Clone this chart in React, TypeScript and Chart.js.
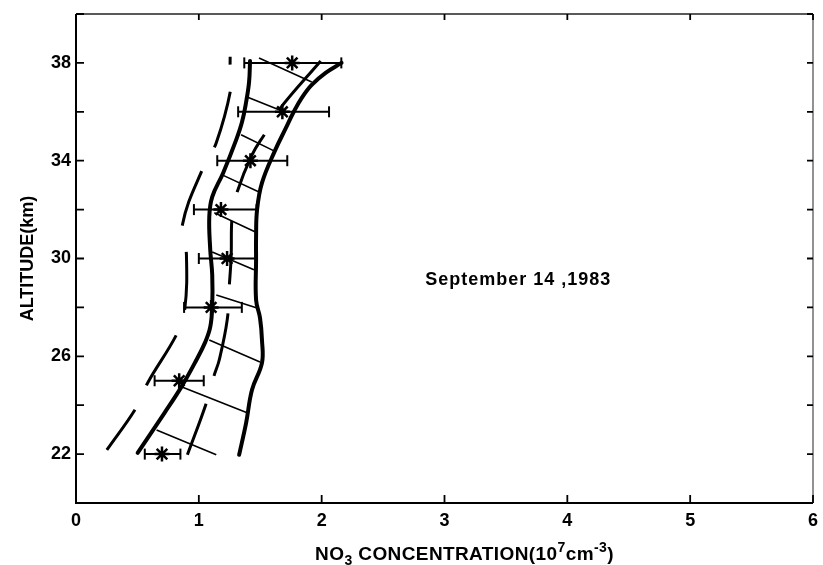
import React, { useEffect, useRef } from "react";
import { Chart, registerables } from "chart.js";

Chart.register(...registerables);

// ---- Data ----
const altitudes = [38, 36, 34, 32, 30, 28, 25, 22];
const concentration = [1.76, 1.68, 1.42, 1.18, 1.23, 1.1, 0.84, 0.7];
const errorLow = [1.37, 1.32, 1.15, 0.96, 1.0, 0.88, 0.64, 0.56];
const errorHigh = [2.16, 2.06, 1.72, 1.47, 1.47, 1.35, 1.04, 0.85];

// [concentration, altitude]
const leftEnvelope: [number, number][] = [
  [1.417, 38.08], [1.409, 37.22], [1.385, 36.4], [1.352, 35.59], [1.304, 34.85],
  [1.198, 33.5], [1.109, 32.52], [1.085, 31.7], [1.093, 30.35], [1.109, 29.33],
  [1.109, 28.02], [1.093, 27.2], [1.053, 26.59], [0.98, 25.85], [0.858, 24.75],
  [0.721, 23.69], [0.502, 22.05],
];
const rightEnvelope: [number, number][] = [
  [2.162, 38.0], [2.032, 37.59], [1.919, 37.1], [1.838, 36.57], [1.773, 36.0],
  [1.709, 35.34], [1.619, 34.4], [1.514, 33.09], [1.474, 31.99], [1.466, 30.88],
  [1.466, 29.94], [1.466, 28.31], [1.498, 27.57], [1.514, 26.67], [1.514, 25.73],
  [1.433, 24.63], [1.385, 23.28], [1.328, 21.97],
];
const innerDashed: [number, number][] = [
  [1.992, 38.08], [1.652, 36.08], [1.547, 35.18], [1.433, 34.24], [1.312, 32.72],
  [1.271, 31.7], [1.263, 30.07], [1.247, 28.8], [1.231, 27.49], [1.166, 25.85],
  [1.126, 25.24], [1.061, 24.09], [0.907, 21.97],
];
const outerDashed: [number, number][] = [
  [1.255, 38.25], [1.255, 37.88], [1.263, 37.02], [1.142, 34.73], [1.045, 33.83],
  [0.866, 31.37], [0.899, 30.15], [0.883, 27.82], [0.818, 26.88], [0.583, 24.91],
  [0.494, 23.93], [0.251, 22.17],
];
// [x1, alt1, x2, alt2]
const hatchSegments: [number, number, number, number][] = [
  [1.49, 38.2, 1.919, 37.22],
  [1.393, 36.61, 1.652, 36.08],
  [1.344, 35.06, 1.628, 34.36],
  [1.19, 33.42, 1.49, 32.72],
  [1.126, 31.87, 1.474, 31.05],
  [1.109, 30.27, 1.449, 29.54],
  [1.142, 28.51, 1.474, 27.98],
  [1.085, 26.67, 1.498, 25.77],
  [0.858, 24.75, 1.393, 23.69],
  [0.656, 22.99, 1.142, 21.97],
];

const yLabelValues = [22, 26, 30, 34, 38];
const dateLabel = "September 14 ,1983";
const dateLabelAt = { x: 3.6, y: 29.1 };
const xTitleParts: { text: string; kind: "base" | "sub" | "sup" }[] = [
  { text: "NO", kind: "base" },
  { text: "3", kind: "sub" },
  { text: " CONCENTRATION(10", kind: "base" },
  { text: "7", kind: "sup" },
  { text: "cm", kind: "base" },
  { text: "-3", kind: "sup" },
  { text: ")", kind: "base" },
];

const FONT = '"Liberation Sans", Arial, Helvetica, sans-serif';

const toPts = (arr: [number, number][]) => arr.map(([x, y]) => ({ x, y }));

const framePlugin = {
  id: "frameTicks",
  afterDatasetsDraw(chart: any) {
    const { ctx, chartArea, scales } = chart;
    const { left, right, top, bottom } = chartArea;
    const xs = scales.x;
    const ys = scales.y;
    ctx.save();
    ctx.lineCap = "butt";
    ctx.strokeStyle = "#000";
    ctx.lineWidth = 2;
    ctx.beginPath();
    ctx.moveTo(left, top);
    ctx.lineTo(left, bottom);
    ctx.lineTo(right, bottom);
    ctx.stroke();
    ctx.lineWidth = 1.6;
    ctx.strokeStyle = "#222";
    ctx.beginPath();
    ctx.moveTo(left, top);
    ctx.lineTo(right, top);
    ctx.stroke();
    ctx.strokeStyle = "#777";
    ctx.beginPath();
    ctx.moveTo(right, top);
    ctx.lineTo(right, bottom);
    ctx.stroke();
    ctx.strokeStyle = "#000";
    ctx.lineWidth = 1.8;
    ctx.beginPath();
    xs.ticks.forEach((t: any) => {
      const px = xs.getPixelForValue(t.value);
      ctx.moveTo(px, bottom);
      ctx.lineTo(px, bottom - 8);
      ctx.moveTo(px, top);
      ctx.lineTo(px, top + 6);
    });
    ys.ticks.forEach((t: any) => {
      const py = ys.getPixelForValue(t.value);
      ctx.moveTo(left, py);
      ctx.lineTo(left + 8, py);
      ctx.moveTo(right, py);
      ctx.lineTo(right - 6, py);
    });
    ctx.stroke();
    ctx.restore();
  },
};

const textPlugin = {
  id: "texts",
  afterDraw(chart: any) {
    const { ctx, chartArea, scales } = chart;
    ctx.save();
    ctx.fillStyle = "#000";
    // date annotation
    ctx.font = `bold 18px ${FONT}`;
    try {
      (ctx as any).letterSpacing = "1px";
    } catch (e) {
      /* ignore */
    }
    ctx.textAlign = "center";
    ctx.textBaseline = "middle";
    ctx.fillText(
      dateLabel,
      scales.x.getPixelForValue(dateLabelAt.x),
      scales.y.getPixelForValue(dateLabelAt.y)
    );
    try {
      (ctx as any).letterSpacing = "0.4px";
    } catch (e) {
      /* ignore */
    }
    // x axis title with sub/superscripts
    const baseFont = `bold 19px ${FONT}`;
    const smallFont = `bold 14px ${FONT}`;
    ctx.textAlign = "left";
    ctx.textBaseline = "alphabetic";
    let total = 0;
    const widths = xTitleParts.map((p) => {
      ctx.font = p.kind === "base" ? baseFont : smallFont;
      const w = ctx.measureText(p.text).width;
      total += w;
      return w;
    });
    const cx = (chartArea.left + chartArea.right) / 2 + 20;
    let x = cx - total / 2;
    const baseY = chart.height - 5;
    xTitleParts.forEach((p, i) => {
      ctx.font = p.kind === "base" ? baseFont : smallFont;
      const dy = p.kind === "sub" ? 5 : p.kind === "sup" ? -8 : 0;
      ctx.fillText(p.text, x, baseY + dy);
      x += widths[i];
    });
    ctx.restore();
  },
};

export default function App() {
  const canvasRef = useRef<HTMLCanvasElement | null>(null);

  useEffect(() => {
    document.body.style.margin = "0";
    const canvas = canvasRef.current;
    if (!canvas) return;

    const hatchData: { x: number; y: number | null }[] = [];
    hatchSegments.forEach(([x1, y1, x2, y2]) => {
      hatchData.push({ x: x1, y: y1 }, { x: x2, y: y2 }, { x: x2, y: null });
    });
    const barData: { x: number; y: number | null }[] = [];
    const capData: { x: number; y: number }[] = [];
    altitudes.forEach((a, i) => {
      barData.push({ x: errorLow[i], y: a }, { x: errorHigh[i], y: a }, { x: errorHigh[i], y: null });
      capData.push({ x: errorLow[i], y: a }, { x: errorHigh[i], y: a });
    });
    const starData = altitudes.map((a, i) => ({ x: concentration[i], y: a }));

    const lineBase = {
      type: "line" as const,
      showLine: true,
      borderColor: "#000",
      backgroundColor: "#000",
      pointRadius: 0,
      fill: false,
    };

    const chart = new Chart(canvas, {
      type: "scatter",
      data: {
        datasets: [
          { ...lineBase, label: "left", data: toPts(leftEnvelope), borderWidth: 4, tension: 0.4, borderCapStyle: "round" },
          { ...lineBase, label: "right", data: toPts(rightEnvelope), borderWidth: 4, tension: 0.4, borderCapStyle: "round" },
          { ...lineBase, label: "inner", data: toPts(innerDashed), borderWidth: 3, tension: 0.4, borderDash: [64, 29] },
          { ...lineBase, label: "outer", data: toPts(outerDashed), borderWidth: 3, tension: 0.4, borderDash: [58, 27], borderDashOffset: 50 },
          { ...lineBase, label: "hatch", data: hatchData as any, borderWidth: 1.6, tension: 0, spanGaps: false },
          { ...lineBase, label: "bars", data: barData as any, borderWidth: 2, tension: 0, spanGaps: false },
          {
            type: "scatter",
            label: "caps",
            data: capData,
            pointStyle: "line",
            rotation: 90,
            pointRadius: 5.5,
            borderWidth: 2,
            borderColor: "#000",
            backgroundColor: "#000",
          } as any,
          {
            type: "scatter",
            label: "NO3",
            data: starData,
            pointStyle: "star",
            pointRadius: 7.5,
            borderWidth: 2.5,
            borderColor: "#000",
            backgroundColor: "#000",
          } as any,
        ] as any,
      },
      options: {
        animation: false,
        responsive: true,
        maintainAspectRatio: false,
        events: [],
        layout: { padding: { left: 0, right: 6, top: 14, bottom: 0 } },
        plugins: { legend: { display: false }, tooltip: { enabled: false } },
        scales: {
          x: {
            type: "linear",
            min: 0,
            max: 6,
            ticks: {
              stepSize: 1,
              padding: 7,
              color: "#000",
              font: { family: FONT, size: 18, weight: "bold" },
            },
            grid: { display: false, drawTicks: false },
            border: { display: false },
            afterFit(s: any) {
              s.height = 62;
              s.paddingLeft = 0;
              s.paddingRight = 0;
            },
          },
          y: {
            type: "linear",
            min: 20,
            max: 40,
            ticks: {
              stepSize: 2,
              padding: 5,
              color: "#000",
              font: { family: FONT, size: 18, weight: "bold" },
              callback: (v: any) => (yLabelValues.includes(Number(v)) ? String(v) : ""),
            },
            grid: { display: false, drawTicks: false },
            border: { display: false },
            title: {
              display: true,
              text: "ALTITUDE(km)",
              color: "#000",
              font: { family: FONT, size: 18, weight: "bold" },
              padding: { top: 17, bottom: 0 },
            },
            afterFit(s: any) {
              s.width = 76;
              s.paddingTop = 0;
              s.paddingBottom = 0;
            },
          },
        },
      } as any,
      plugins: [framePlugin, textPlugin],
    });

    return () => chart.destroy();
  }, []);

  return (
    <div style={{ width: 823, height: 565, position: "relative" }}>
      <canvas ref={canvasRef} />
    </div>
  );
}
